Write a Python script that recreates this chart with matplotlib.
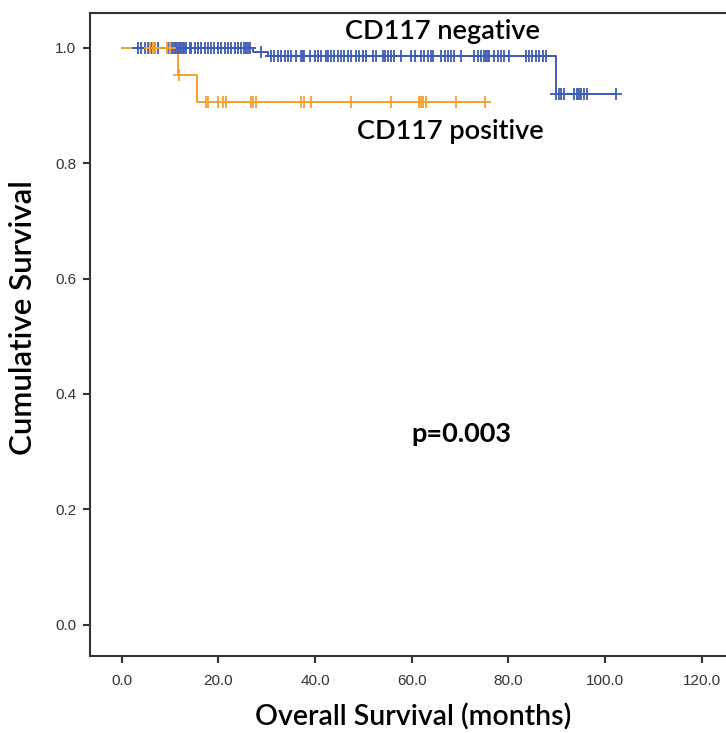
import matplotlib
matplotlib.use("Agg")
import matplotlib.pyplot as plt

# ---- data ----
neg_step_times = [0.0, 27.1, 30.2, 89.9, 102.3]
neg_step_surv = [1.0, 0.993, 0.985, 0.920, 0.920]
neg_cens_t = [3.4, 4.1, 4.8, 5.4, 6.1, 6.8, 7.5, 9.6, 10.3, 10.6, 11.0, 11.3, 11.6, 12.0,
              12.3, 12.7, 13.0, 13.4, 14.1, 14.4, 15.1, 15.8, 16.5, 17.2, 17.8, 18.5, 19.2,
              19.9, 20.6, 21.3, 22.0, 22.7, 23.4, 24.0, 24.7, 25.4, 25.8, 26.1, 26.5,
              28.9,
              31.0, 31.6, 32.3, 33.0, 33.7, 34.4, 35.1, 36.1, 37.2, 37.5, 37.8, 38.9, 39.9,
              40.6, 41.3, 42.3, 42.7, 43.4, 44.0, 44.7, 45.4, 46.1, 46.8, 47.5, 48.5, 49.2,
              49.9, 50.6, 52.0, 52.7, 54.0, 54.4, 55.1, 55.8, 56.4, 57.8, 59.9, 60.6, 62.0,
              62.6, 63.3, 64.0, 64.4, 66.1, 66.8, 67.5, 68.2, 68.8, 70.2, 73.0, 73.7, 74.4,
              75.0, 75.4, 75.7, 76.1, 77.1, 77.8, 78.5, 79.2, 80.2, 83.7, 84.3, 85.0, 85.7,
              86.4, 87.1, 87.8,
              89.9, 90.5, 91.0, 91.5, 93.6, 94.2, 94.6, 95.1, 95.7, 96.2, 102.3]

pos_step_times = [0.0, 11.6, 15.6, 75.2]
pos_step_surv = [1.0, 0.953, 0.905, 0.905]
pos_cens_t = [5.8, 6.4, 6.8, 9.3, 9.9, 11.9, 17.5, 17.8, 19.9, 20.9, 21.6, 26.8, 27.2,
              27.7, 37.1, 37.8, 39.2, 47.4, 55.7, 61.6, 62.0, 62.3, 63.0, 69.1, 75.2]

x_ticks = [0, 20, 40, 60, 80, 100, 120]
y_ticks = [0.0, 0.2, 0.4, 0.6, 0.8, 1.0]

blue = "#3E5BB5"
orange = "#F5A02C"


def surv_at(t, times, surv):
    s = surv[0]
    for ti, si in zip(times, surv):
        if t >= ti:
            s = si
    return s


fig = plt.figure(figsize=(7.26, 7.33), dpi=100)
ax = fig.add_axes([90 / 726, 77 / 733, 660 / 726, 643 / 733])

for times, surv, cens, col in [(neg_step_times, neg_step_surv, neg_cens_t, blue),
                               (pos_step_times, pos_step_surv, pos_cens_t, orange)]:
    ax.step(times, surv, where="post", color=col, lw=1.4, zorder=3)
    cy = [surv_at(t, times, surv) for t in cens]
    ax.plot(cens, cy, linestyle="none", marker="+", markersize=9, mew=1.3,
            color=col, zorder=4)

ax.set_xlim(-6.55, 130)
ax.set_ylim(-0.054, 1.06)
ax.set_xticks(x_ticks)
ax.set_xticklabels([f"{v:.1f}" for v in x_ticks])
ax.set_yticks(y_ticks)
ax.set_yticklabels([f"{v:.1f}" for v in y_ticks])

for s in ax.spines.values():
    s.set_linewidth(1.5)
    s.set_color("#333333")

ax.tick_params(direction="out", length=5, width=1.5, color="#333333",
               labelsize=11, labelcolor="#333333", pad=5)
ax.tick_params(axis="x", pad=8)
for lab in ax.get_xticklabels() + ax.get_yticklabels():
    lab.set_family("Liberation Sans")

ax.set_xlabel("Overall Survival (months)", fontsize=20.5, family="Lato",
              fontweight="semibold")
ax.set_ylabel("Cumulative Survival", fontsize=22.5, family="Lato",
              fontweight="semibold")
ax.xaxis.set_label_coords(0.489, -0.074)
ax.yaxis.set_label_coords(-0.081, 0.526)

ax.text(66.4, 1.028, "CD117 negative", fontsize=19.5, family="Lato",
        fontweight="semibold", ha="center", va="center")
ax.text(68.0, 0.854, "CD117 positive", fontsize=19.5, family="Lato",
        fontweight="semibold", ha="center", va="center")
ax.text(70.3, 0.331, "p=0.003", fontsize=19.5, family="Lato",
        fontweight="bold", ha="center", va="center")

fig.savefig("out.png", dpi=100)
